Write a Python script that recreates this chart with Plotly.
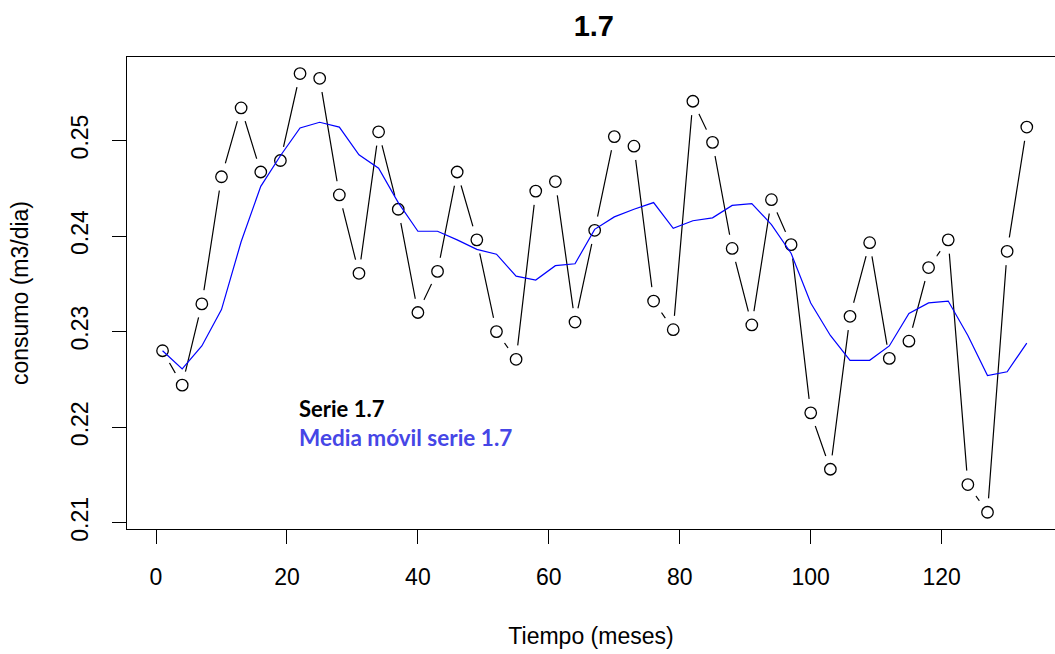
import plotly.graph_objects as go

# Data
meses = [1, 4, 7, 10, 13, 16, 19, 22, 25, 28, 31, 34, 37, 40, 43, 46, 49, 52, 55, 58,
         61, 64, 67, 70, 73, 76, 79, 82, 85, 88, 91, 94, 97, 100, 103, 106, 109, 112,
         115, 118, 121, 124, 127, 130, 133]
serie = [0.2280, 0.2244, 0.2329, 0.2462, 0.2534, 0.2467, 0.2479, 0.2570, 0.2565, 0.2443,
         0.2361, 0.2509, 0.2428, 0.2320, 0.2363, 0.2467, 0.2396, 0.2300, 0.2271, 0.2447,
         0.2457, 0.2310, 0.2406, 0.2504, 0.2494, 0.2332, 0.2302, 0.2541, 0.2498, 0.2387,
         0.2307, 0.2438, 0.2391, 0.2215, 0.2156, 0.2316, 0.2393, 0.2272, 0.2290, 0.2367,
         0.2396, 0.2140, 0.2111, 0.2384, 0.2514]
media_movil = [0.2280, 0.2261, 0.2285, 0.2323, 0.2394, 0.2452, 0.2484, 0.2513, 0.2519, 0.2514,
               0.2485, 0.2471, 0.2435, 0.2405, 0.2405, 0.2396, 0.2386, 0.2381, 0.2358, 0.2354,
               0.2369, 0.2371, 0.2407, 0.2420, 0.2428, 0.2435, 0.2408, 0.2416, 0.2419, 0.2432,
               0.2434, 0.2412, 0.2382, 0.2330, 0.2296, 0.2270, 0.2270, 0.2285, 0.2319, 0.2330,
               0.2332, 0.2296, 0.2254, 0.2258, 0.2288]
x_ticks = [0, 20, 40, 60, 80, 100, 120]
y_ticks = [0.21, 0.22, 0.23, 0.24, 0.25]
y_tick_labels = ["0.21", "0.22", "0.23", "0.24", "0.25"]

FONT = "Liberation Sans, Arial, sans-serif"

fig = go.Figure()
# black connecting line
fig.add_trace(go.Scatter(x=meses, y=serie, mode="lines",
                         line=dict(color="black", width=1.2),
                         hoverinfo="skip", showlegend=False))
# white gaps around the points (R type = "b")
fig.add_trace(go.Scatter(x=meses, y=serie, mode="markers",
                         marker=dict(symbol="circle", size=28, color="white",
                                     line=dict(width=0)),
                         hoverinfo="skip", showlegend=False))
# open circles
fig.add_trace(go.Scatter(x=meses, y=serie, mode="markers", name="Serie 1.7",
                         marker=dict(symbol="circle-open", size=11.5, color="black",
                                     line=dict(width=1.3, color="black")),
                         showlegend=False))
# moving average
fig.add_trace(go.Scatter(x=meses, y=media_movil, mode="lines", name="Media móvil serie 1.7",
                         line=dict(color="#0000ff", width=1.2),
                         showlegend=False))

L, R, T, B = 127, 0, 57, 125
W, H = 1055, 654
pw, ph = W - L - R, H - T - B


def px(xp):
    return (xp - L) / pw


def py(yp):
    return 1 - (yp - T) / ph


fig.add_annotation(x=px(297), y=py(408), xref="paper", yref="paper", text="<b>Serie 1.7</b>",
                   showarrow=False, xanchor="left", yanchor="middle",
                   font=dict(family="Lato, sans-serif", size=22, color="black"))
fig.add_annotation(x=px(297), y=py(437), xref="paper", yref="paper",
                   text="<b>Media móvil serie 1.7</b>",
                   showarrow=False, xanchor="left", yanchor="middle",
                   font=dict(family="Lato, sans-serif", size=22.5, color="#4646e6"))

fig.update_layout(
    width=W, height=H,
    margin=dict(l=L, r=R, t=T, b=B, pad=0),
    plot_bgcolor="white", paper_bgcolor="white",
    font=dict(family=FONT, size=23, color="black"),
    title=dict(text="<b>1.7</b>", x=593.8 / W, xref="container", xanchor="center",
               y=1 - 25.5 / H, yref="container", yanchor="middle",
               font=dict(family=FONT, size=29, color="black")),
    xaxis=dict(range=[-4.43, 137.31], tickvals=x_ticks, showgrid=False, zeroline=False,
               showline=True, linecolor="black", linewidth=1.3, mirror=True,
               ticks="outside", ticklen=14, tickwidth=1.3, tickcolor="black",
               tickfont=dict(size=23), automargin=False, ticklabelstandoff=13,
               title=dict(text="Tiempo (meses)", font=dict(size=23), standoff=39)),
    yaxis=dict(range=[0.20935, 0.25873], tickvals=y_ticks, ticktext=y_tick_labels,
               showgrid=False, zeroline=False,
               showline=True, linecolor="black", linewidth=1.3, mirror=False,
               ticks="outside", ticklen=14, tickwidth=1.3, tickcolor="black",
               tickangle=-90, tickfont=dict(size=23), automargin=False,
               ticklabelstandoff=15,
               title=dict(text="consumo (m3/dia)", font=dict(size=23), standoff=31)),
)

fig.write_html("out.html", config={"displayModeBar": False},
               post_script="document.body.style.margin='0';document.body.style.overflow='hidden';")
